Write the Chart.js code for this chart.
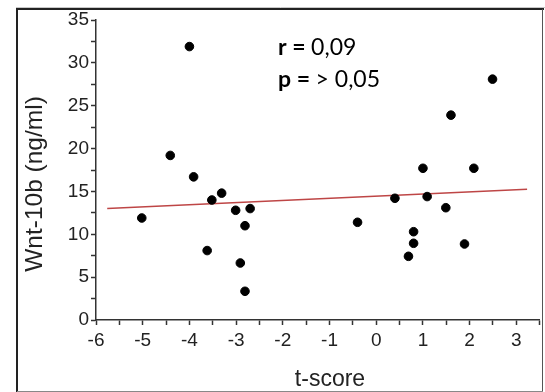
<!DOCTYPE html>
<html>
<head>
<meta charset="utf-8">
<script src="https://cdn.jsdelivr.net/npm/chart.js@4"></script>
<style>
  html, body { margin: 0; padding: 0; background: #fff; }
  #wrap { width: 545px; height: 392px; position: relative; }
</style>
</head>
<body>
<div id="wrap"><canvas id="myChart" width="545" height="392"></canvas></div>
<script>
// values
var tScore = [-5.02, -4.0, -4.41, -3.91, -3.52, -3.31, -3.01, -2.70, -2.81, -3.62, -2.91, -2.81,
              -0.40, 0.40, 1.09, 1.00, 1.49, 1.60, 2.49, 2.09, 0.80, 0.80, 0.69, 1.89];
var wnt10b = [11.9, 31.9, 19.2, 16.7, 14.0, 14.8, 12.8, 13.0, 11.0, 8.1, 6.65, 3.35,
              11.4, 14.2, 14.4, 17.7, 13.1, 23.9, 28.1, 17.7, 10.3, 8.95, 7.43, 8.87];
// regression line ends
var fitX = [-5.76, 3.23];
var fitY = [13.0, 15.25];

var xTitle = 't-score';
var yTitle = 'Wnt-10b (ng/ml)';

var points = tScore.map(function (x, i) { return { x: x, y: wnt10b[i] }; });
var fitLine = fitX.map(function (x, i) { return { x: x, y: fitY[i] }; });

// frame, axis titles, r/p note
var extras = {
  id: 'extras',
  afterDraw: function (chart) {
    var c = chart.ctx;
    c.save();
    c.strokeStyle = '#c8c8c8';
    c.lineWidth = 1;
    c.beginPath(); c.moveTo(16, 7.5); c.lineTo(545, 7.5); c.stroke();
    c.strokeStyle = '#222';
    c.lineWidth = 2;
    c.beginPath(); c.moveTo(17, 392); c.lineTo(17, 9); c.lineTo(544, 9); c.stroke();
    c.strokeStyle = '#555';
    c.lineWidth = 1;
    c.beginPath(); c.moveTo(542.5, 9); c.lineTo(542.5, 391); c.stroke();
    c.strokeStyle = '#888';
    c.beginPath(); c.moveTo(17, 391.5); c.lineTo(543, 391.5); c.stroke();

    // axis titles
    c.fillStyle = '#222';
    c.font = '23px "Liberation Sans"';
    c.textAlign = 'center';
    c.textBaseline = 'alphabetic';
    c.fillText(xTitle, 330, 386);
    c.save();
    c.translate(42, 184);
    c.rotate(-Math.PI / 2);
    c.font = '24.5px "Liberation Sans"';
    c.fillText(yTitle, 0, 0);
    c.restore();

    c.fillStyle = '#000';
    c.textAlign = 'left';
    c.font = 'bold 23px Lato';
    c.fillText('r =', 278, 55);
    var w1 = c.measureText('r = ').width;
    c.fillText('p =', 278, 87);
    var w2 = c.measureText('p = ').width;
    c.font = '23px Lato';
    c.fillText('0,09', 278 + w1, 55);
    c.fillText('> 0,05', 278 + w2, 87);
    c.restore();
  }
};

var ctx = document.getElementById('myChart');
var myChart = new Chart(ctx, {
  type: 'scatter',
  data: {
    datasets: [{
      label: 'Wnt-10b',
      data: points,
      backgroundColor: '#000',
      borderColor: '#000',
      pointRadius: 4.3,
      pointHoverRadius: 4.3
    }, {
      type: 'line',
      label: 'fit',
      data: fitLine,
      borderColor: 'rgb(190, 70, 70)',
      borderWidth: 1.5,
      pointRadius: 0,
      fill: false
    }]
  },
  plugins: [extras],
  options: {
    responsive: false,
    animation: false,
    events: [],
    layout: { padding: { left: 0, right: 3, top: 20, bottom: 0 } },
    plugins: { legend: { display: false }, tooltip: { enabled: false } },
    scales: {
      x: {
        type: 'linear',
        min: -6,
        max: 3.5,
        border: { display: true, color: '#333', width: 1.5 },
        grid: { display: true, drawOnChartArea: false, drawTicks: true, tickLength: 5, tickColor: '#333', tickWidth: 1.5 },
        ticks: {
          stepSize: 0.5,
          autoSkip: false,
          maxRotation: 0,
          padding: 4,
          color: '#222',
          font: { family: 'Liberation Sans', size: 19 },
          callback: function (v) { return Number.isInteger(v) ? v : ''; }
        },
        afterFit: function (s) { s.height = 72; }
      },
      y: {
        min: 0,
        max: 35,
        border: { display: true, color: '#333', width: 1.5 },
        grid: { display: true, drawOnChartArea: false, drawTicks: true, tickLength: 5, tickColor: '#333', tickWidth: 1.5 },
        ticks: {
          stepSize: 2.5,
          autoSkip: false,
          padding: 2,
          color: '#222',
          font: { family: 'Liberation Sans', size: 19 },
          callback: function (v) { return v % 5 === 0 ? v : ''; }
        },
        afterFit: function (s) { s.width = 96; }
      }
    }
  }
});
</script>
</body>
</html>
